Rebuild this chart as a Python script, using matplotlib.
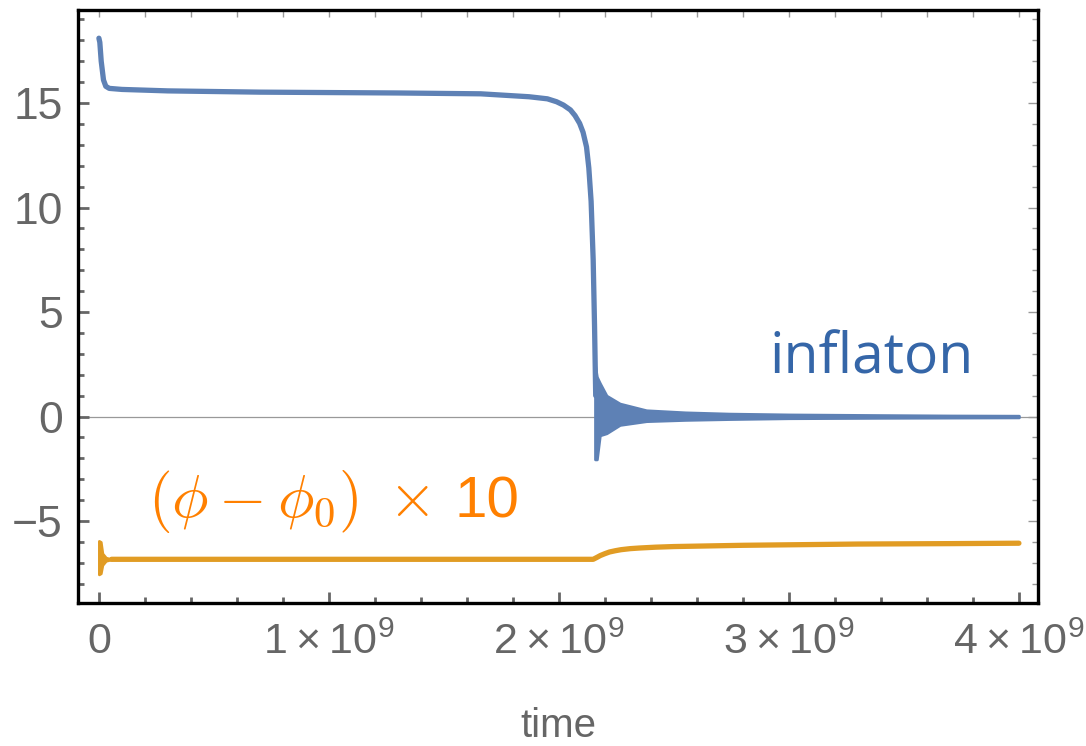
import numpy as np
import matplotlib
matplotlib.use("Agg")
import matplotlib.pyplot as plt
from matplotlib.ticker import MultipleLocator

# time axis is in units of 1e9
blue_t = [0.0, 0.004, 0.01, 0.02, 0.03, 0.045, 0.1, 0.3, 0.7, 1.0, 1.3, 1.66,
          1.87, 1.95, 1.99, 2.02, 2.05, 2.07, 2.09, 2.105, 2.12, 2.13, 2.14,
          2.149, 2.155, 2.16]
blue_v = [18.1, 17.9, 17.0, 16.1, 15.8, 15.7, 15.65, 15.58, 15.52, 15.5, 15.48, 15.44,
          15.3, 15.2, 15.06, 14.9, 14.67, 14.4, 14.03, 13.6, 12.9, 11.9, 10.3,
          7.5, 4.3, 1.0]

# envelope of the fast oscillation after the drop
osc_t = [2.157, 2.165, 2.178, 2.207, 2.265, 2.38, 2.55, 2.74, 3.0, 3.4, 3.7, 4.0]
osc_hi = [2.45, 1.9, 1.6, 1.0, 0.62, 0.3, 0.2, 0.14, 0.1, 0.07, 0.05, 0.04]
osc_lo = [-2.05, -2.05, -0.9, -0.8, -0.4, -0.22, -0.16, -0.12, -0.08, -0.06, -0.05, -0.04]

orange_t = [0.055, 0.5, 1.0, 1.5, 2.0, 2.149, 2.165, 2.18, 2.2, 2.22, 2.245, 2.27,
            2.31, 2.35, 2.42, 2.5, 2.65, 2.8, 3.05, 3.3, 3.7, 4.0]
orange_v = [-6.83, -6.83, -6.83, -6.83, -6.83, -6.83, -6.74, -6.65, -6.56, -6.48, -6.42,
            -6.37, -6.32, -6.29, -6.25, -6.22, -6.19, -6.16, -6.13, -6.1, -6.08, -6.06]

# initial ringing of the orange curve
ring_t = [0.0, 0.008, 0.015, 0.03, 0.055]
ring_hi = [-5.95, -6.0, -6.55, -6.75, -6.83]
ring_lo = [-7.55, -7.5, -7.1, -6.9, -6.83]

xticks = [0, 1, 2, 3, 4]
xticklabels = [r"$\mathregular{0}$", r"$\mathregular{1\times10^{9}}$",
               r"$\mathregular{2\times10^{9}}$", r"$\mathregular{3\times10^{9}}$",
               r"$\mathregular{4\times10^{9}}$"]
yticks = [-5, 0, 5, 10, 15]
yticklabels = ["\u22125", "0", "5", "10", "15"]

BLUE = "#5E81B5"
ORANGE = "#E19C24"
GRAY = "#666666"

plt.rcParams["font.family"] = ["Liberation Sans", "DejaVu Sans"]

fig = plt.figure(figsize=(10.86, 7.46), dpi=100)
ax = fig.add_axes([0.0718, 0.1917, 0.8840, 0.7949])

ax.axhline(0, color="#999999", lw=0.9, zorder=1)

lw = 3.8
ax.plot(blue_t, blue_v, color=BLUE, lw=lw, solid_capstyle="round",
        solid_joinstyle="round", zorder=3)
ax.fill_between(osc_t, osc_lo, osc_hi, color=BLUE, lw=2.0, edgecolor=BLUE, zorder=3)

ax.plot(orange_t, orange_v, color=ORANGE, lw=lw, solid_capstyle="round",
        solid_joinstyle="round", zorder=3)
ax.fill_between(ring_t, ring_lo, ring_hi, color=ORANGE, lw=2.0, edgecolor=ORANGE, zorder=3)

ax.text(3.36, 2.08, "inflaton", color="#3566A8", fontsize=41, family="Open Sans",
        ha="center", va="baseline")
# orange label: math part in Computer Modern, the factor in sans
ax.text(0.213, -4.81, r"$(\phi - \phi_0)\;\times$", color="#FF8000",
        fontsize=44, math_fontfamily="cm", ha="left", va="baseline")
ax.text(1.548, -4.81, "10", color="#FF8000", fontsize=42,
        ha="left", va="baseline")

ax.set_xlim(-0.091, 4.083)
ax.set_ylim(-8.92, 19.45)

ax.set_xticks(xticks)
ax.set_xticklabels(xticklabels)
ax.set_yticks(yticks)
ax.set_yticklabels(yticklabels)
ax.xaxis.set_minor_locator(MultipleLocator(0.2))
ax.yaxis.set_minor_locator(MultipleLocator(1))

ax.tick_params(which="both", direction="in", color=GRAY, top=False, right=False)
ax.tick_params(which="major", length=8, width=2.0)
ax.tick_params(which="minor", length=4.5, width=2.0)
ax.tick_params(axis="x", which="major", labelsize=31, labelcolor=GRAY, pad=14)
ax.tick_params(axis="y", which="major", labelsize=32, labelcolor=GRAY, pad=11)

for s in ax.spines.values():
    s.set_linewidth(2.4)
    s.set_color("black")

# thin ticks on the top and right frame edges
top = ax.secondary_xaxis("top")
top.set_xticks(xticks)
top.xaxis.set_minor_locator(MultipleLocator(0.2))
top.tick_params(which="both", direction="in", color="#999999", width=1.0, length=5,
                labeltop=False)
top.spines["top"].set_visible(False)

right = ax.secondary_yaxis("right")
right.set_yticks(yticks)
right.yaxis.set_minor_locator(MultipleLocator(1))
right.tick_params(which="major", direction="in", color="#999999", width=1.0, length=7,
                  labelright=False)
right.tick_params(which="minor", direction="in", color="#999999", width=1.0, length=4)
right.spines["right"].set_visible(False)

ax.set_xlabel("time", fontsize=29, color=GRAY, labelpad=32)

fig.savefig("out.png", dpi=100)
